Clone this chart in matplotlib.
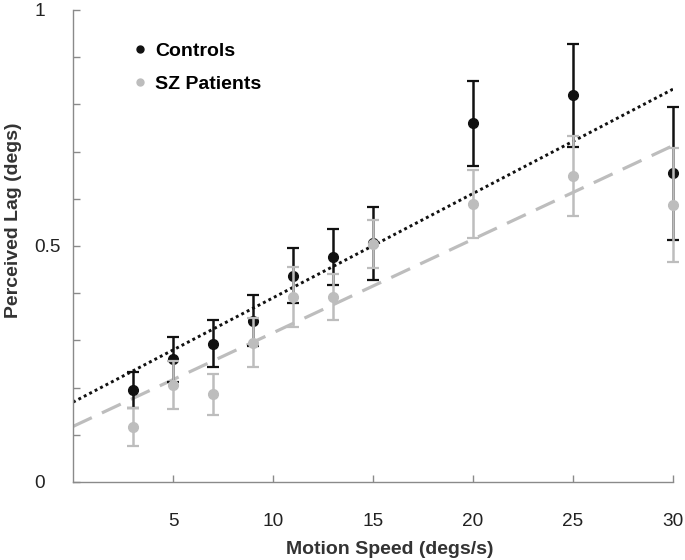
import numpy as np
import matplotlib
matplotlib.use("Agg")
import matplotlib.pyplot as plt
from matplotlib.lines import Line2D

plt.rcParams['font.family'] = ['Liberation Sans', 'DejaVu Sans']

speeds = [3, 5, 7, 9, 11, 13, 15, 20, 25, 30]
controls_mean = [0.194, 0.260, 0.293, 0.342, 0.437, 0.477, 0.506, 0.760, 0.819, 0.654]
controls_err = [0.038, 0.048, 0.050, 0.054, 0.058, 0.060, 0.077, 0.090, 0.110, 0.141]
sz_mean = [0.116, 0.205, 0.186, 0.295, 0.392, 0.392, 0.504, 0.589, 0.648, 0.587]
sz_err = [0.040, 0.051, 0.043, 0.052, 0.063, 0.048, 0.051, 0.072, 0.085, 0.120]

black = '#111111'
grey = '#bdbdbd'
axis_grey = '#8a8a8a'

fig = plt.figure(figsize=(6.85, 5.6), dpi=100)
ax = fig.add_axes([73 / 685, 78 / 560, 600 / 685, 472 / 560])

# regression lines
xfit = np.array([0, 30])
b_c = np.polyfit(speeds, controls_mean, 1)
b_s = np.polyfit(speeds, sz_mean, 1)
ax.plot(xfit, np.polyval(b_c, xfit), color=black, lw=2.1, linestyle=(0, (1, 1.1)), zorder=2)
ax.plot(xfit, np.polyval(b_s, xfit), color=grey, lw=2.3, linestyle=(0, (6.5, 3.5)), zorder=2)

ax.errorbar(speeds, controls_mean, yerr=controls_err, fmt='o', color=black, ms=7,
            elinewidth=1.8, capsize=4.3, capthick=1.6, clip_on=False, zorder=3)
ax.errorbar(speeds, sz_mean, yerr=sz_err, fmt='o', color=grey, ms=7,
            elinewidth=1.8, capsize=4.3, capthick=1.6, clip_on=False, zorder=4)

ax.set_xlim(0, 30)
ax.set_ylim(0, 1)
ax.set_xticks([5, 10, 15, 20, 25, 30])
ax.set_yticks(np.arange(0, 1.01, 0.1))
ax.set_yticklabels(['0', '', '', '', '', '0.5', '', '', '', '', '1'])

for side in ['top', 'right']:
    ax.spines[side].set_visible(False)
for side in ['left', 'bottom']:
    ax.spines[side].set_color(axis_grey)
    ax.spines[side].set_linewidth(1)

ax.tick_params(axis='both', direction='in', length=5, width=1, color=axis_grey,
               labelsize=13.7, labelcolor='#222222')
ax.tick_params(axis='x', pad=22)
ax.tick_params(axis='y', pad=28)
for lab in ax.get_yticklabels():
    lab.set_horizontalalignment('left')

ax.set_xlabel('Motion Speed (degs/s)', fontsize=14, fontweight='bold', color='#333333')
ax.set_ylabel('Perceived Lag (degs)', fontsize=14, fontweight='bold', color='#333333')
ax.xaxis.set_label_coords(0.528, -0.125)
ax.yaxis.set_label_coords(-0.085, 0.555)

handles = [Line2D([], [], marker='o', ls='none', color=black, ms=5),
           Line2D([], [], marker='o', ls='none', color=grey, ms=5)]
ax.legend(handles, ['Controls', 'SZ Patients'], loc='upper left',
          bbox_to_anchor=(134 / 685, 1 - 42 / 560), bbox_transform=fig.transFigure,
          frameon=False, handlelength=0.6, handletextpad=0.5, labelspacing=0.8,
          prop={'weight': 'bold', 'size': 14}, borderaxespad=0, borderpad=0)

fig.savefig('out.png', dpi=100)
